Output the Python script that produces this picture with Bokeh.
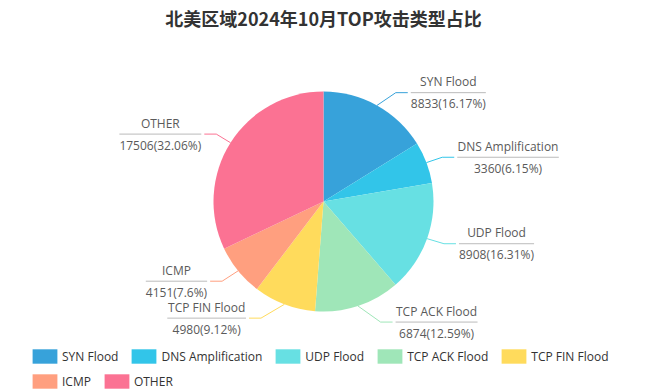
import math
from bokeh.plotting import figure
from bokeh.models import ColumnDataSource, Range1d, Legend, LegendItem
from bokeh.core.properties import value
from bokeh.embed import file_html
from bokeh.resources import INLINE

# ---------------- data ----------------
title_text = "北美区域2024年10月TOP攻击类型占比"
categories = ["SYN Flood", "DNS Amplification", "UDP Flood", "TCP ACK Flood",
              "TCP FIN Flood", "ICMP", "OTHER"]
counts = [8833, 3360, 8908, 6874, 4980, 4151, 17506]
colors = ["#37A2DA", "#32C5E9", "#67E0E3", "#9FE6B8", "#FFDB5C", "#ff9f7f", "#fb7293"]

# ---------------- layout constants ----------------
W, H = 646, 392
CX, CY = 323, H - 201       # pie centre (data units == pixels)
R = 110
LEN1, LEN2, GAP = 18, 12, 3
# small label-position nudges (page px) mimicking the label overlap layout
nudge_x = [10, -1, 0, 17, -17, -2, 1]
nudge_y = [3, 1, -1, -1, -3, -1, 1]

FONT = "Open Sans"
W_TABLE = {
    **{d: 0.572 for d in "0123456789"}, "(": 0.296, ")": 0.296, ".": 0.266, "%": 0.823,
    " ": 0.26, "A": 0.633, "C": 0.631, "D": 0.737, "F": 0.556, "I": 0.291, "K": 0.619,
    "M": 0.907, "N": 0.765, "O": 0.786, "P": 0.604, "S": 0.549, "T": 0.556, "U": 0.76,
    "Y": 0.571, "H": 0.754, "E": 0.556, "R": 0.618, "a": 0.556, "c": 0.479, "d": 0.613,
    "f": 0.336, "i": 0.258, "l": 0.258, "m": 0.93, "n": 0.618, "o": 0.605, "p": 0.613,
    "t": 0.352, "u": 0.618, "e": 0.561, "s": 0.479, "r": 0.408,
}


def text_w(s, size=12):
    return sum(W_TABLE.get(ch, 0.6) for ch in s) * size


def pct_str(v):
    return ("%.2f" % v).rstrip("0").rstrip(".")


total = sum(counts)
fracs = [c / total for c in counts]
starts, ends, mids = [], [], []
acc = 0.0
for f in fracs:
    starts.append(acc)
    acc += f
    ends.append(acc)
    mids.append(acc - f / 2)

src = ColumnDataSource(dict(
    cat=categories,
    count=counts,
    color=colors,
    start=[math.pi / 2 - 2 * math.pi * a for a in starts],
    end=[math.pi / 2 - 2 * math.pi * b for b in ends],
))

p = figure(width=W, height=H, output_backend="svg", toolbar_location=None,
           x_range=Range1d(0, W), y_range=Range1d(0, H),
           min_border=0, outline_line_color=None, background_fill_color="white")
p.axis.visible = False
p.grid.visible = False

wr = p.wedge(x=CX, y=CY, radius=R, radius_units="screen", start_angle="start",
             end_angle="end", direction="clock", fill_color="color",
             line_color=None, source=src)

# ---------------- labels ----------------
line_xs, line_ys, line_cols = [], [], []
hr_x0, hr_x1, hr_y = [], [], []
name_x, name_y, name_t = [], [], []
val_x, val_y, val_t = [], [], []
for i, m in enumerate(mids):
    th = 2 * math.pi * m
    sx, sy = math.sin(th), math.cos(th)
    side = 1 if sx > 0 else -1
    ex, ey = CX + R * sx, CY + R * sy
    bx = CX + (R + LEN1) * sx + nudge_x[i]
    by = CY + (R + LEN1) * sy - nudge_y[i]
    lx = bx + side * LEN2
    line_xs.append([ex, bx, lx])
    line_ys.append([ey, by, by])
    line_cols.append(colors[i])
    nm = categories[i]
    vl = "%d(%s%%)" % (counts[i], pct_str(fracs[i] * 100))
    bw = max(text_w(nm), text_w(vl))
    b0 = lx + side * GAP
    b1 = b0 + side * bw
    hr_x0.append(b0)
    hr_x1.append(b1)
    hr_y.append(by)
    c = (b0 + b1) / 2
    name_x.append(c); name_y.append(by + 11); name_t.append(nm)
    val_x.append(c); val_y.append(by - 11); val_t.append(vl)

p.multi_line(xs=line_xs, ys=line_ys, line_color=line_cols, line_width=1)
p.segment(x0=hr_x0, y0=hr_y, x1=hr_x1, y1=hr_y, line_color="#bbbbbb", line_width=1)
p.text(x=name_x, y=name_y, text=name_t, text_align="center", text_baseline="middle",
       text_font=value(FONT), text_font_size="12px", text_color="#5a5a5a")
p.text(x=val_x, y=val_y, text=val_t, text_align="center", text_baseline="middle",
       text_font=value(FONT), text_font_size="12px", text_color="#5a5a5a")

# ---------------- title ----------------
p.text(x=[323], y=[H - 17], text=[title_text], text_align="center",
       text_baseline="middle", text_font=value("Noto Sans CJK SC"),
       text_font_style="bold", text_font_size="18px", text_color="#333333")

# ---------------- legend (two rows) ----------------
def make_legend(idx, loc):
    return Legend(
        items=[LegendItem(label=categories[i], renderers=[wr], index=i) for i in idx],
        orientation="horizontal", location=loc, glyph_width=31, glyph_height=18,
        label_standoff=2, spacing=10, padding=0, margin=0, label_height=18,
        border_line_color=None, background_fill_alpha=0,
        label_text_font=FONT, label_text_font_size="12px", label_text_color="#333333",
        click_policy="none")

p.add_layout(make_legend([0, 1, 2, 3, 4], (29, 27)))
p.add_layout(make_legend([5, 6], (29, 2)))

open("out.html", "w").write(file_html(p, INLINE))
